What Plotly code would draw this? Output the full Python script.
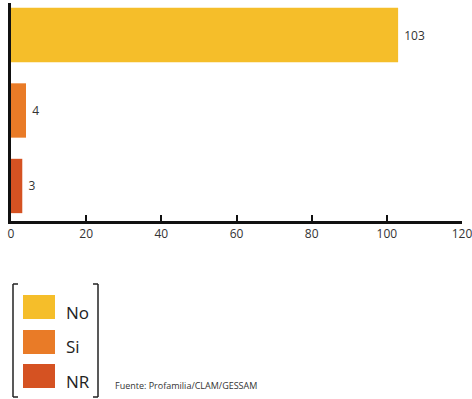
import plotly.graph_objects as go

categories = ["No", "Si", "NR"]
values = [103, 4, 3]
colors = ["#F5BE2A", "#E97B27", "#D55222"]
x_ticks = [0, 20, 40, 60, 80, 100, 120]
source = "Fuente: Profamilia/CLAM/GESSAM"

W, H = 472, 399
ML, MR, MT, MB = 11, 10, 3, 178
PW = W - ML - MR
PH = H - MT - MB


def px(x):
    return (x - ML) / PW


def py(y):
    return (H - MB - y) / PH


fig = go.Figure()
fig.add_trace(go.Bar(
    y=categories, x=values, orientation="h",
    marker=dict(color=colors, line=dict(width=0)),
    text=["\u00a0" + str(v) for v in values], textposition="outside",
    textfont=dict(family="Open Sans", size=12, color="#333333"),
    cliponaxis=False, width=0.72, showlegend=False, hoverinfo="skip",
))

shapes = []
line = dict(color="#222222", width=1.5)
# brackets
shapes.append(dict(type="line", xref="paper", yref="paper", x0=px(13), x1=px(13), y0=py(284), y1=py(397), line=line))
shapes.append(dict(type="line", xref="paper", yref="paper", x0=px(13), x1=px(18), y0=py(284), y1=py(284), line=line))
shapes.append(dict(type="line", xref="paper", yref="paper", x0=px(13), x1=px(18), y0=py(397), y1=py(397), line=line))
shapes.append(dict(type="line", xref="paper", yref="paper", x0=px(98), x1=px(98), y0=py(284), y1=py(397), line=line))
shapes.append(dict(type="line", xref="paper", yref="paper", x0=px(93), x1=px(98), y0=py(284), y1=py(284), line=line))
shapes.append(dict(type="line", xref="paper", yref="paper", x0=px(93), x1=px(98), y0=py(397), y1=py(397), line=line))

annotations = []
tops = [295, 330, 364]
for i, (cat, col) in enumerate(zip(categories, colors)):
    t = tops[i]
    shapes.append(dict(type="rect", xref="paper", yref="paper",
                       x0=px(23), x1=px(55), y0=py(t), y1=py(t + 24),
                       fillcolor=col, line=dict(width=0)))
    annotations.append(dict(xref="paper", yref="paper", x=px(64), y=py(t + 17),
                            text=cat, showarrow=False, xanchor="left", yanchor="middle",
                            font=dict(family="Open Sans", size=17, color="#222222")))

annotations.append(dict(xref="paper", yref="paper", x=px(113), y=py(385),
                        text=source, showarrow=False, xanchor="left", yanchor="middle",
                        font=dict(family="Open Sans", size=9, color="#333333")))

fig.update_layout(
    width=W, height=H,
    margin=dict(l=ML, r=MR, t=MT, b=MB, pad=0, autoexpand=False),
    paper_bgcolor="white", plot_bgcolor="white",
    bargap=0.28,
    shapes=shapes, annotations=annotations,
    xaxis=dict(range=[0, 120], tickvals=x_ticks, ticks="inside", ticklen=6, tickwidth=2,
               tickcolor="#111111", showline=True, linecolor="#111111", linewidth=2.5,
               showgrid=False, zeroline=False, ticklabeloverflow="allow", automargin=False,
               tickfont=dict(family="Open Sans", size=12, color="#333333")),
    yaxis=dict(range=[2.464, -0.424], type="category", categoryorder="array",
               categoryarray=categories, showticklabels=False, ticks="",
               showline=True, linecolor="#111111", linewidth=2.5, showgrid=False,
               zeroline=False, automargin=False),
)

fig.write_html("out.html", config={"displayModeBar": False},
               post_script="document.body.style.margin='0';document.body.style.overflow='hidden';")
